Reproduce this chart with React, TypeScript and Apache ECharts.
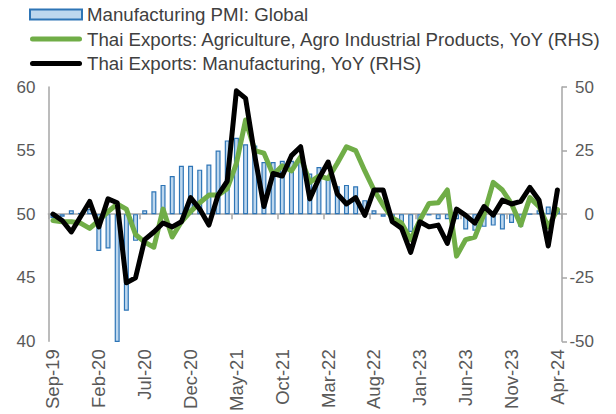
import React, { useEffect, useRef } from "react";
import * as echarts from "echarts";

const categories = [
  "Sep-19", "Oct-19", "Nov-19", "Dec-19",
  "Jan-20", "Feb-20", "Mar-20", "Apr-20", "May-20", "Jun-20", "Jul-20", "Aug-20", "Sep-20", "Oct-20", "Nov-20", "Dec-20",
  "Jan-21", "Feb-21", "Mar-21", "Apr-21", "May-21", "Jun-21", "Jul-21", "Aug-21", "Sep-21", "Oct-21", "Nov-21", "Dec-21",
  "Jan-22", "Feb-22", "Mar-22", "Apr-22", "May-22", "Jun-22", "Jul-22", "Aug-22", "Sep-22", "Oct-22", "Nov-22", "Dec-22",
  "Jan-23", "Feb-23", "Mar-23", "Apr-23", "May-23", "Jun-23", "Jul-23", "Aug-23", "Sep-23", "Oct-23", "Nov-23", "Dec-23",
  "Jan-24", "Feb-24", "Mar-24", "Apr-24",
];

const pmiGlobal = [
  49.7, 49.8, 50.3, 50.1,
  50.4, 47.1, 47.3, 39.6, 42.4, 47.9, 50.3, 51.8, 52.3, 53.0, 53.8, 53.8,
  53.5, 53.9, 55.0, 55.8, 56.0, 55.5, 55.4, 54.1, 54.1, 54.2, 54.2, 54.3,
  53.2, 53.7, 52.9, 52.2, 52.3, 52.2, 51.1, 50.3, 49.8, 49.4, 48.8, 48.6,
  49.1, 49.9, 49.6, 49.6, 49.6, 48.8, 48.7, 49.0, 49.1, 48.8, 49.3, 49.0,
  50.0, 50.3, 50.6, 50.3,
];

const agriExportsYoY = [
  -2.5, -3, -3, -3.5,
  -5.6, -2.5, 1, 4, 2, -8, -11, -13, 2, -9, -3, 1,
  4.5, 7.5, 7.5, 10, 20, 37, 25, 24, 15.5, 19, 17, 22.5,
  12.5, 15, 14, 20, 26.5, 25, 17, 9.5, 3.5, -1.5, -3.5, -10,
  -2.4, 4.2, 4.5, 9.5, -16.5, -10, -9, 0, 12.5, 9.5, 4, -4.3,
  6.5, 2.9, -5, 1.8,
];

const mfgExportsYoY = [
  0, -2.5, -7, -1,
  5, -5, 6, 4.5, -27, -25, -10, -7, -3.5, -5, -3, 6.5,
  2, -4.3, 7.5, 13, 48.5, 45.5, 23, 3, 16, 15, 23, 26.5,
  6, 14, 20.5, 8, 4, 6.5, -0.5, 9.5, 9.5, -3, -5.5, -15,
  -3, -5, -4.3, -11.5, 2, -0.5, -3.5, 3, -0.4, 5.5, 4, 5,
  10.5, 5.5, -12.5, 9.5,
];

const leftTicks = { min: 40, max: 60, interval: 5 };
const rightTicks = { min: -50, max: 50, interval: 25 };
const PMI_BASE = 50;

const seriesNames = [
  "Manufacturing PMI: Global",
  "Thai Exports: Agriculture, Agro Industrial Products, YoY (RHS)",
  "Thai Exports: Manufacturing, YoY (RHS)",
];

const FONT = "'Liberation Sans', Arial, sans-serif";
const AXIS_GREY = "#A6A6A6";
const LABEL_GREY = "#595959";
const LINE_ICON = "path://M2.5,0 H49.5 A2.5,2.5 0 0 1 49.5,5 H2.5 A2.5,2.5 0 0 1 2.5,0 Z";

export default function App() {
  const ref = useRef<HTMLDivElement>(null);

  useEffect(() => {
    if (!ref.current) return;
    const chart = echarts.init(ref.current, null, { renderer: "svg" });
    const option = {
      animation: false,
      backgroundColor: "#ffffff",
      textStyle: { fontFamily: FONT },
      legend: {
        orient: "vertical",
        left: 29,
        top: 5,
        itemWidth: 52,
        itemHeight: 10,
        itemGap: 5.5,
        padding: 0,
        textStyle: { fontSize: 18.7, color: "#404040", fontFamily: FONT },
        data: [
          { name: seriesNames[0], icon: "rect" },
          { name: seriesNames[1], icon: LINE_ICON },
          { name: seriesNames[2], icon: LINE_ICON },
        ],
      },
      grid: { left: 48.4, right: 54, top: 87, bottom: 72, containLabel: false },
      xAxis: [
        {
          type: "category",
          data: categories,
          boundaryGap: true,
          axisLine: { show: true, onZero: true, lineStyle: { color: AXIS_GREY, width: 1.5 } },
          axisTick: { show: true, interval: 4, length: 5, inside: false, lineStyle: { color: AXIS_GREY, width: 1.5 } },
          axisLabel: { show: false },
          splitLine: { show: false },
        },
        {
          type: "category",
          data: categories,
          boundaryGap: true,
          position: "bottom",
          axisLine: { show: false, onZero: false },
          axisTick: { show: false },
          axisLabel: {
            show: true,
            interval: 4,
            rotate: 90,
            margin: 8,
            fontSize: 18.5,
            color: LABEL_GREY,
            fontFamily: FONT,
          },
          splitLine: { show: false },
        },
      ],
      yAxis: [
        {
          type: "value",
          min: leftTicks.min - PMI_BASE,
          max: leftTicks.max - PMI_BASE,
          interval: leftTicks.interval,
          position: "left",
          axisLine: { show: true, lineStyle: { color: AXIS_GREY, width: 1.5 } },
          axisTick: { show: false },
          splitLine: { show: false },
          axisLabel: {
            margin: 13,
            fontSize: 17,
            color: LABEL_GREY,
            fontFamily: FONT,
            formatter: (v: number) => String(v + PMI_BASE),
          },
        },
        {
          type: "value",
          min: rightTicks.min,
          max: rightTicks.max,
          interval: rightTicks.interval,
          position: "right",
          axisLine: { show: true, lineStyle: { color: AXIS_GREY, width: 1.5 } },
          axisTick: { show: true, inside: false, length: 5, lineStyle: { color: AXIS_GREY, width: 1.5 } },
          splitLine: { show: false },
          axisLabel: { margin: 32, align: "right", fontSize: 17, color: LABEL_GREY, fontFamily: FONT },
        },
      ],
      series: [
        {
          name: seriesNames[0],
          type: "bar",
          xAxisIndex: 0,
          yAxisIndex: 0,
          barWidth: 5,
          data: pmiGlobal.map((v) => +(v - PMI_BASE).toFixed(2)),
          itemStyle: { color: "#BDD7EE", borderColor: "#2E75B6", borderWidth: 1.2 },
          z: 2,
        },
        {
          name: seriesNames[1],
          type: "line",
          xAxisIndex: 0,
          yAxisIndex: 1,
          data: agriExportsYoY,
          symbol: "none",
          lineStyle: { color: "#70AD47", width: 5, join: "round", cap: "round" },
          itemStyle: { color: "#70AD47" },
          z: 3,
        },
        {
          name: seriesNames[2],
          type: "line",
          xAxisIndex: 0,
          yAxisIndex: 1,
          data: mfgExportsYoY,
          symbol: "none",
          lineStyle: { color: "#000000", width: 5, join: "round", cap: "round" },
          itemStyle: { color: "#000000" },
          z: 4,
        },
      ],
    };
    chart.setOption(option);
    return () => chart.dispose();
  }, []);

  return (
    <div
      ref={ref}
      style={{ position: "fixed", left: 0, top: 0, width: 616, height: 414, background: "#fff" }}
    />
  );
}
